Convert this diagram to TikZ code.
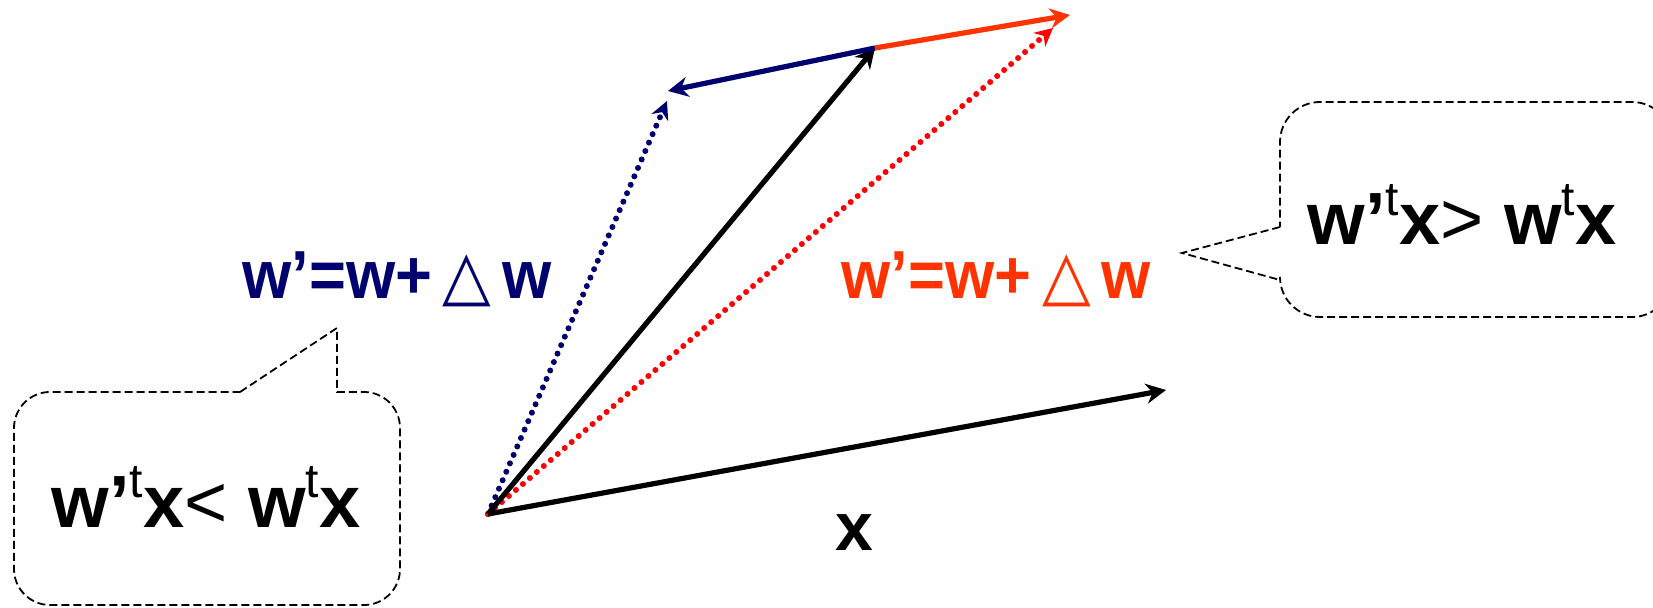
\documentclass[tikz,border=0pt]{standalone}
\usepackage{fontspec}
\setmainfont{Liberation Sans}
\newfontfamily\symfont{DejaVu Sans}
\usetikzlibrary{arrows.meta}
\definecolor{navyb}{RGB}{0,0,110}
\definecolor{orred}{RGB}{255,51,0}
\definecolor{pured}{RGB}{255,0,0}
\newcommand\tri{{\symfont\mdseries △}}
\newcommand\supt{\raisebox{0.40em}{\fontsize{24}{24}\selectfont\mdseries t}}
\newcommand\thinrel[1]{{\mdseries #1}}
\tikzset{
  vec/.style={line width=2.6pt,-{Stealth[length=10pt,width=10pt]}},
  dotvec/.style={line width=3pt,dash pattern=on 0pt off 4.6pt,line cap=round,-{Stealth[length=9pt,width=9pt]}},
  bubble/.style={draw=black,line width=0.9pt,dash pattern=on 4pt off 2pt},
  lbl/.style={font=\fontsize{34}{40}\selectfont\bfseries,inner sep=0pt,anchor=base},
  btxt/.style={font=\fontsize{37}{44}\selectfont\bfseries,inner sep=0pt,anchor=base},
}
\begin{document}
\begin{tikzpicture}[x=0.5pt,y=-0.5pt]
\useasboundingbox (0,0) rectangle (1653,608);
\clip (0,0) rectangle (1653,608);
% coordinates
\coordinate (O) at (488,514);
\coordinate (X) at (1166,390);
\coordinate (W) at (875,48);
\coordinate (Wr) at (1070,15);
\coordinate (Wrd) at (1053,28);
\coordinate (Wb) at (668,91);
\coordinate (Wbd) at (667,101);
% vectors
\draw[dotvec,navyb] (O) -- (Wbd);
\draw[dotvec,pured] (O) -- (Wrd);
\draw[vec,black] (O) -- (X);
\draw[vec,black] (O) -- (W);
\draw[vec,navyb] (W) -- (Wb);
\draw[vec,orred] (W) -- (Wr);
% labels
\node[lbl,text=navyb] (lb) at (397,299) {\scalebox{0.93}[1]{w’=w+\,\tri\,w}};
\node[lbl,text=orred] (lr) at (996,299) {\scalebox{0.93}[1]{w’=w+\,\tri\,w}};
\node[lbl,text=black] (lx) at (854,550) {x};
% left bubble
\draw[bubble] (240,392) -- (337,328) -- (337,392) [rounded corners=18pt] -- (400,392) -- (400,605) -- (14,605) -- (14,392) [sharp corners] -- (240,392);
\node[btxt] (bl) at (206,527) {w’\supt x\thinrel{<} w\supt x};
% right bubble
\draw[bubble] (1280,227) -- (1182,253) -- (1280,280) [rounded corners=20pt] -- (1280,317) -- (1672,317) -- (1672,102) -- (1280,102) [sharp corners] -- (1280,227);
\node[btxt] (br) at (1462,245) {w’\supt x\thinrel{>} w\supt x};
\end{tikzpicture}
\end{document}
